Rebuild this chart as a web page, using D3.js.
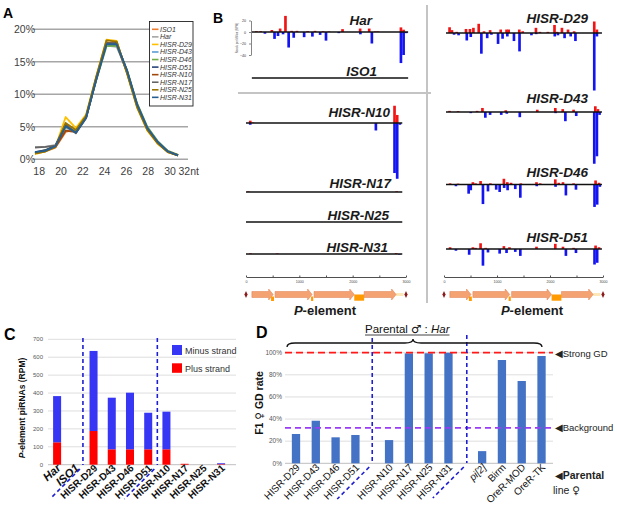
<!DOCTYPE html>
<html><head><meta charset="utf-8">
<script src="https://cdn.jsdelivr.net/npm/d3@7"></script>
<style>body{margin:0;background:#fff}</style>
</head><body>
<svg id="fig" width="617" height="513"></svg>
<script>
// ---- panel A data: small RNA length distribution (% of reads)
const lengths = [18,19,20,21,22,23,24,25,26,27,28,29,30,31,32];
const pctTicks = [0,5,10,15,20];
const sizeTicks = [18,20,22,24,26,28,30,32];
const libNames = ["ISO1","Har","HISR-D29","HISR-D43","HISR-D46","HISR-D51","HISR-N10","HISR-N17","HISR-N25","HISR-N31"];
const libColors = ["#ed7d31","#a5a5a5","#ffc000","#5b9bd5","#70ad47","#264478","#9e480e","#636363","#997300","#255e91"];
const iso1Len = [0.9,1.2,1.8,4.2,4.6,6.6,12.3,17.8,17.6,13.7,8.4,4.6,2.5,1.1,0.6];
const harLen  = [1.9,1.9,2.2,4.8,4.3,6.4,12.2,17.5,17.3,13.6,8.5,4.9,2.8,1.3,0.7];
const d29Len  = [0.8,1.2,1.9,6.5,4.8,6.9,12.8,18.4,18.2,13.2,7.9,4.4,2.4,1.1,0.6];
const d43Len  = [1.0,1.3,2.0,5.2,4.2,6.5,12.5,17.9,17.6,13.4,8.2,4.7,2.6,1.2,0.6];
const d46Len  = [1.0,1.4,2.1,5.0,4.3,6.6,12.2,17.4,17.5,13.8,8.6,5.0,2.8,1.3,0.7];
const d51Len  = [1.1,1.4,2.1,5.2,4.1,6.4,12.4,17.8,17.9,13.6,8.3,4.7,2.6,1.2,0.6];
const n10Len  = [0.9,1.3,1.9,4.4,4.2,6.5,12.6,18.0,17.7,13.4,8.2,4.6,2.5,1.2,0.6];
const n17Len  = [1.8,1.9,2.1,5.4,4.0,6.3,12.3,17.9,17.8,13.6,8.4,4.8,2.6,1.2,0.6];
const n25Len  = [0.9,1.2,1.9,5.6,4.5,6.7,12.7,18.3,18.1,13.3,8.0,4.5,2.5,1.1,0.6];
const n31Len  = [1.1,1.3,2.0,5.1,4.1,6.4,12.3,17.7,17.7,13.7,8.4,4.8,2.7,1.2,0.6];

// ---- panel B data: piRNA coverage along P-element, [bin start bp, RPM]
const harPlus  = [[170,1.5],[250,1.5],[460,3.5],[615,6],[715,28],[830,2],[930,2],[1130,1.5],[1270,2],[1420,1.5],[1530,1],[1785,5],[2115,6],[2285,6],[2400,1],[2450,1],[2880,8],[2930,4]];
const harMinus = [[330,3],[510,12],[575,7],[670,4],[775,27],[870,10],[1065,9],[1220,8],[1365,5],[1475,15],[1715,2],[2120,4],[2335,20],[2880,54],[2930,40],[2980,2]];
const iso1Plus = [], iso1Minus = [];
const n10Plus  = [[55,4],[105,1],[2760,30],[2810,14]];
const n10Minus = [[55,3],[2410,13],[2760,87],[2810,97],[2860,3]];
const n17Plus  = [[20,1],[2800,1.2]], n17Minus = [];
const n25Plus  = [], n25Minus = [];
const n31Plus  = [[60,1.2],[560,1],[2790,1.5]], n31Minus = [[2850,1]];
const d29Plus  = [[80,10],[125,5],[215,2],[390,7],[465,7],[530,9],[630,16],[730,3],[845,5],[1045,6],[1155,6],[1195,6],[1395,6],[1460,3],[1710,9],[1785,2],[1935,2],[2060,14],[2110,2],[2200,9],[2315,6],[2430,3],[2810,20],[2860,6]];
const d29Minus = [[165,3],[250,4],[405,13],[480,7],[680,36],[790,9],[870,3],[995,19],[1080,10],[1170,6],[1295,14],[1400,32],[1625,4],[1715,2],[2065,6],[2125,4],[2250,9],[2365,6],[2455,14],[2810,100],[2860,6]];
const d43Plus  = [[80,2],[240,1.5],[600,2],[700,7],[1140,3],[1735,4],[2075,7],[2215,5],[2420,4],[2830,10],[2880,5]];
const d43Minus = [[480,2],[755,10],[845,5],[1055,5],[1160,3],[1405,9],[2080,2],[2265,16],[2470,7],[2810,90],[2860,77],[2910,5]];
const d46Plus  = [[90,2],[240,1.5],[520,4],[570,2],[665,6],[850,2],[1105,10],[1170,4],[1240,3],[1425,2],[1720,4],[1790,2],[2075,9],[2140,3],[2220,4],[2420,2],[2835,7],[2900,3]];
const d46Minus = [[200,3],[440,16],[480,10],[710,34],[805,12],[960,9],[1025,13],[1110,6],[1175,10],[1320,8],[1415,23],[1725,3],[2080,4],[2275,19],[2465,9],[2815,39],[2865,35],[2915,4]];
const d51Plus  = [[90,3],[520,3],[570,2],[665,10],[760,2],[1105,5],[1210,3],[1720,4],[2075,9],[2220,4],[2420,2],[2835,6],[2900,3]];
const d51Minus = [[200,3],[450,10],[710,29],[805,6],[1025,8],[1155,7],[1320,5],[1415,12],[2275,12],[2465,7],[2815,27],[2865,24]];
// P-element features (bp)
const exons = [[110,510],[545,1240],[1275,2030],[2215,2815]];
const smallBoxes = [[470,525],[1220,1260]];
const bigBox = [2030,2215];
const tailSeg = [2815,2950];

// ---- panel C data
const cCats = ["Har","ISO1","HISR-D29","HISR-D43","HISR-D46","HISR-D51","HISR-N10","HISR-N17","HISR-N25","HISR-N31"];
const cPlus  = [125,0,188,86,86,86,86,5,0,3];
const cMinus = [258,0,447,288,316,204,210,0,0,5];
const cTicks = [0,100,200,300,400,500,600,700];

// ---- panel D data
const dCats  = ["HISR-D29","HISR-D43","HISR-D46","HISR-D51","HISR-N10","HISR-N17","HISR-N25","HISR-N31","pi[2]","Birm","OreR-MOD","OreR-TK"];
const dGroup = [0,0,0,0,1,1,1,1,2,2,2,2];
const dRate  = [26.5,38.5,23.5,25.6,21,99.4,99.5,100,11,93.4,74.4,97];
const dTicks = [0,20,40,60,80,100];
const strongGD = 100, background = 32;

const SYM = "'DejaVu Sans'";
const svg = d3.select("#fig").attr("font-family","'Liberation Sans', Arial, sans-serif");
svg.append("rect").attr("width",617).attr("height",513).attr("fill","#fff");

function panelLetter(t,x,y,s){
  svg.append("text").attr("x",x).attr("y",y).attr("font-size",s).attr("font-weight","bold").text(t);
}

// ================= A
const gA = svg.append("g");
const xA = d3.scaleLinear().domain([18,32]).range([35,178]);
const yA = d3.scaleLinear().domain([0,20]).range([159.3,29.3]);
const lxA = d3.scaleLinear().domain([18,30]).range([39.2,170]);
gA.selectAll(".g").data(pctTicks).join("line")
  .attr("x1",33).attr("x2",188).attr("y1",d=>yA(d)).attr("y2",d=>yA(d))
  .attr("stroke","#a6a6a6").attr("stroke-width",1.4);
gA.selectAll(".yl").data(pctTicks).join("text")
  .attr("x",35).attr("y",d=>yA(d)+3.8).attr("text-anchor","end")
  .attr("font-size",10.5).attr("fill","#404040").text(d=>d+"%");
gA.selectAll(".xl").data(sizeTicks).join("text")
  .attr("x",d=>d===32?178.5:lxA(d)).attr("y",175).attr("text-anchor",d=>d===32?"start":"middle")
  .attr("font-size",10.5).attr("fill","#404040").text(d=>d===32?"32nt":d);
const lenSeries = [iso1Len,harLen,d29Len,d43Len,d46Len,d51Len,n10Len,n17Len,n25Len,n31Len];
const lineA = d3.line().x((d,i)=>xA(lengths[i])).y(d=>yA(d));
lenSeries.forEach((s,i)=>{
  gA.append("path").attr("d",lineA(s)).attr("fill","none")
    .attr("stroke",libColors[i]).attr("stroke-width",1.8).attr("stroke-linejoin","round");
});
gA.append("rect").attr("x",149.5).attr("y",21.5).attr("width",43.5).attr("height",84.5)
  .attr("fill","#fff").attr("stroke","#222").attr("stroke-width",0.9);
libNames.forEach((n,i)=>{
  const y = 29.3 + i*7.56;
  gA.append("line").attr("x1",152).attr("x2",158.5).attr("y1",y).attr("y2",y)
    .attr("stroke",libColors[i]).attr("stroke-width",1.6);
  gA.append("text").attr("x",160).attr("y",y+2.4).attr("font-size",7)
    .attr("font-style","italic").attr("fill","#333").text(n);
});
panelLetter("A",3,18,14);

// ================= B
panelLetter("B",213,23,14);
const xL = d3.scaleLinear().domain([0,3000]).range([246,406]);
const xR = d3.scaleLinear().domain([0,3000]).range([444,603]);
const rpm = d3.scaleLinear().domain([0,20]).range([0,11.5]);
const tracks = [
  {name:"Har",     plus:harPlus,  minus:harMinus,  xs:xL, base:32,  ly:25,  lx:372, span:[110,3040]},
  {name:"ISO1",    plus:iso1Plus, minus:iso1Minus, xs:xL, base:78,  ly:76,  lx:377, span:[110,3040]},
  {name:"HISR-N10",plus:n10Plus,  minus:n10Minus,  xs:xL, base:123, ly:117, lx:390, span:[0,2930]},
  {name:"HISR-N17",plus:n17Plus,  minus:n17Minus,  xs:xL, base:192, ly:188, lx:391, span:[0,2930]},
  {name:"HISR-N25",plus:n25Plus,  minus:n25Minus,  xs:xL, base:222, ly:220, lx:389, span:[0,2930]},
  {name:"HISR-N31",plus:n31Plus,  minus:n31Minus,  xs:xL, base:254, ly:252, lx:388, span:[0,2930]},
  {name:"HISR-D29",plus:d29Plus,  minus:d29Minus,  xs:xR, base:33,  ly:23,  lx:588, span:[38,2980]},
  {name:"HISR-D43",plus:d43Plus,  minus:d43Minus,  xs:xR, base:112, ly:103, lx:588, span:[38,2980]},
  {name:"HISR-D46",plus:d46Plus,  minus:d46Minus,  xs:xR, base:184.5,ly:177, lx:588, span:[38,2980]},
  {name:"HISR-D51",plus:d51Plus,  minus:d51Minus,  xs:xR, base:249, ly:242, lx:588, span:[38,2980]}
];
const gB = svg.append("g");
tracks.forEach(t=>{
  const g = gB.append("g");
  const w = d=>t.xs(d[0]+50)-t.xs(d[0]);
  g.selectAll(".p").data(t.plus).join("rect")
    .attr("x",d=>t.xs(d[0])).attr("width",w)
    .attr("y",d=>t.base-rpm(d[1])).attr("height",d=>rpm(d[1])).attr("fill","#f01414");
  g.selectAll(".m").data(t.minus).join("rect")
    .attr("x",d=>t.xs(d[0])).attr("width",w)
    .attr("y",t.base).attr("height",d=>rpm(d[1])).attr("fill","#1414f0");
  g.append("line").attr("x1",t.xs(t.span[0])).attr("x2",t.xs(t.span[1]))
    .attr("y1",t.base).attr("y2",t.base).attr("stroke","#111").attr("stroke-width",1.4);
  g.append("text").attr("x",t.lx).attr("y",t.ly).attr("text-anchor","end")
    .attr("font-size",13.5).attr("font-weight","bold").attr("font-style","italic")
    .attr("fill","#1a1a1a").text(t.name);
});
// small RPM axis on Har track
const yHar = d3.scaleLinear().domain([-40,20]).range([32+rpm(40),32-rpm(20)]);
const axHar = gB.append("g").attr("transform","translate(251,0)")
  .call(d3.axisLeft(yHar).tickValues([20,0,-20,-40]).tickSize(2).tickSizeOuter(0));
axHar.selectAll("text").attr("font-size",3.6).attr("fill","#333");
axHar.selectAll("path,line").attr("stroke","#333").attr("stroke-width",0.6);
axHar.attr("font-family",null);
gB.append("text").attr("transform","translate(238,38) rotate(-90)").attr("text-anchor","middle")
  .attr("font-size",2.8).attr("fill","#555").text("Reads per Million (RPM)");

// separators
gB.append("line").attr("x1",427).attr("x2",427).attr("y1",5).attr("y2",303)
  .attr("stroke","#c4c4c4").attr("stroke-width",2);
gB.append("line").attr("x1",238).attr("x2",431).attr("y1",93).attr("y2",93)
  .attr("stroke","#c4c4c4").attr("stroke-width",2);

function geneDiagram(xs, labelX){
  const g = gB.append("g");
  const ax = g.append("g").attr("transform","translate(0,277)")
    .call(d3.axisTop(xs).tickValues([0,500,1000,1500,2000,2500,3000]).tickSize(1.5).tickSizeOuter(0)
      .tickFormat(d=>d%1000===0?d:""));
  ax.attr("font-family",null);
  ax.selectAll("path,line").attr("stroke","#222").attr("stroke-width",0.8);
  ax.selectAll("text").attr("font-size",3.6).attr("fill","#444").attr("y",6);
  const yc = 294.5;
  g.append("line").attr("x1",xs(tailSeg[0])).attr("x2",xs(tailSeg[1])).attr("y1",yc).attr("y2",yc)
    .attr("stroke","#fbe7b8").attr("stroke-width",3);
  exons.forEach(e=>{
    const a = xs(e[0]), b = xs(e[1]), h = b-4.5;
    g.append("path").attr("d",`M${a},${yc-3}L${h},${yc-3}L${h},${yc-5.5}L${b},${yc}L${h},${yc+5.5}L${h},${yc+3}L${a},${yc+3}Z`)
      .attr("fill","#f5a273").attr("stroke","#e07d4c").attr("stroke-width",0.5);
  });
  smallBoxes.forEach(e=>{
    g.append("rect").attr("x",xs(e[0])).attr("width",xs(e[1])-xs(e[0]))
      .attr("y",yc+2).attr("height",4.5).attr("fill","#ff9a00");
  });
  g.append("rect").attr("x",xs(bigBox[0])).attr("width",xs(bigBox[1])-xs(bigBox[0]))
    .attr("y",yc).attr("height",6.2).attr("fill","#ff9a00");
  [0,3000].forEach(p=>{
    const x = xs(p);
    g.append("path").attr("d",`M${x},${yc-3.5}L${x+1.6},${yc}L${x},${yc+3.5}L${x-1.6},${yc}Z`).attr("fill","#8a1c1c");
  });
  const t = g.append("text").attr("x",labelX).attr("y",315).attr("text-anchor","middle")
    .attr("font-size",13).attr("font-weight","bold").attr("fill","#1a1a1a");
  t.append("tspan").attr("font-style","italic").text("P");
  t.append("tspan").text("-element");
}
geneDiagram(xL,325);
geneDiagram(xR,532);

// ================= C
panelLetter("C",4,340,16);
const gC = svg.append("g");
const yC = d3.scaleLinear().domain([0,700]).range([464.7,339.3]);
const xC = d3.scaleBand().domain(cCats).range([48,230.2]).paddingInner(0.56).paddingOuter(0.28);
gC.selectAll(".g").data(cTicks).join("line")
  .attr("x1",48).attr("x2",236).attr("y1",d=>yC(d)).attr("y2",d=>yC(d))
  .attr("stroke",d=>d===0?"#bfbfbf":"#dedede").attr("stroke-width",1);
gC.selectAll(".yl").data(cTicks).join("text")
  .attr("x",43).attr("y",d=>yC(d)+2.1).attr("text-anchor","end")
  .attr("font-size",6).attr("fill","#595959").text(d=>d);
gC.selectAll(".bp").data(cCats).join("rect")
  .attr("x",d=>xC(d)).attr("width",xC.bandwidth())
  .attr("y",(d,i)=>yC(cPlus[i])).attr("height",(d,i)=>yC(0)-yC(cPlus[i])).attr("fill","#ff0000");
gC.selectAll(".bm").data(cCats).join("rect")
  .attr("x",d=>xC(d)).attr("width",xC.bandwidth())
  .attr("y",(d,i)=>yC(cPlus[i]+cMinus[i])).attr("height",(d,i)=>yC(cPlus[i])-yC(cPlus[i]+cMinus[i])).attr("fill","#3636f4");
gC.selectAll(".xl").data(cCats).join("text")
  .attr("transform",d=>`translate(${xC(d)+xC.bandwidth()/2+4.5},469) rotate(-42)`)
  .attr("text-anchor","end").attr("font-weight","bold")
  .attr("font-size",(d,i)=>i<2?11.5:10).attr("font-style",(d,i)=>i<2?"italic":null)
  .attr("fill","#111").text(d=>d);
gC.append("rect").attr("x",172).attr("y",345).attr("width",10).attr("height",10).attr("fill","#3636f4");
gC.append("rect").attr("x",172).attr("y",363.3).attr("width",10).attr("height",9.5).attr("fill","#ff0000");
gC.append("text").attr("x",185).attr("y",354).attr("font-size",9).attr("fill","#333").text("Minus strand");
gC.append("text").attr("x",185).attr("y",372).attr("font-size",9).attr("fill","#333").text("Plus strand");
const tc = gC.append("text").attr("transform","translate(25,408) rotate(-90)").attr("text-anchor","middle")
  .attr("font-size",8.5).attr("font-weight","bold").attr("fill","#111");
tc.append("tspan").attr("font-style","italic").text("P");
tc.append("tspan").text("-element piRNAs (RPM)");
function groupSplit(g, x, yTop, yBot, dy){
  g.append("line").attr("x1",x).attr("x2",x).attr("y1",yTop).attr("y2",yBot)
    .attr("stroke","#1f1fd0").attr("stroke-width",1.6).attr("stroke-dasharray","4,3");
  g.append("line").attr("x1",x-3).attr("y1",yBot+4).attr("x2",x-3-dy).attr("y2",yBot+4+dy)
    .attr("stroke","#1f1fd0").attr("stroke-width",1.6).attr("stroke-dasharray","4,3");
}
const cMid = (a,b)=>(xC(a)+xC(b))/2+xC.bandwidth()/2;
groupSplit(gC, cMid("ISO1","HISR-D29")-1.5, 338, 465, 29);
groupSplit(gC, cMid("HISR-D51","HISR-N10"), 338, 465, 30);

// ================= D
panelLetter("D",256,338,16);
const gD = svg.append("g");
const yD = d3.scaleLinear().domain([0,100]).range([463.3,352.7]);
const slot = d3.scaleLinear().domain([0,1]).range([296,315.8]);
const xD = i=>slot(i+0.7*dGroup[i]);
gD.selectAll(".g").data(dTicks).join("line")
  .attr("x1",285).attr("x2",553).attr("y1",d=>yD(d)).attr("y2",d=>yD(d))
  .attr("stroke",d=>d===0?"#bfbfbf":"#dedede").attr("stroke-width",1);
gD.selectAll(".yl").data(dTicks).join("text")
  .attr("x",282).attr("y",d=>yD(d)+2.2).attr("text-anchor","end")
  .attr("font-size",6.5).attr("fill","#595959").text(d=>d+"%");
gD.selectAll(".b").data(dRate).join("rect")
  .attr("x",(d,i)=>xD(i)-4.15).attr("width",8.3)
  .attr("y",d=>yD(d)).attr("height",d=>yD(0)-yD(d)).attr("fill","#4472c4");
gD.selectAll(".xl").data(dCats).join("text")
  .attr("transform",(d,i)=>`translate(${xD(i)+4.5},468) rotate(-45)`)
  .attr("text-anchor","end").attr("font-size",10).attr("fill","#111")
  .attr("font-style",d=>d==="pi[2]"?"italic":null).text(d=>d);
gD.append("line").attr("x1",285).attr("x2",553).attr("y1",yD(strongGD)).attr("y2",yD(strongGD))
  .attr("stroke","#ff1a1a").attr("stroke-width",1.8).attr("stroke-dasharray","7,4");
gD.append("line").attr("x1",285).attr("x2",553).attr("y1",yD(background)).attr("y2",yD(background))
  .attr("stroke","#9b3cf5").attr("stroke-width",1.6).attr("stroke-dasharray","6,4");
groupSplit(gD, (xD(3)+xD(4))/2, 338, 463, 32);
groupSplit(gD, (xD(7)+xD(8))/2+1.5, 335, 463, 31);
function markText(x,y,label,bold){
  const t = gD.append("text").attr("x",x).attr("y",y).attr("font-size",bold?10.5:9.5).attr("fill","#222");
  t.append("tspan").attr("font-family",SYM).attr("font-size",10).text("◀");
  t.append("tspan").attr("font-weight",bold?"bold":null).text(label);
}
markText(555,356.5,"Strong GD",false);
markText(555,yD(background)+3.5,"Background",false);
markText(555,479,"Parental",true);
const tl = gD.append("text").attr("x",553).attr("y",494).attr("font-size",10.5).attr("fill","#222");
tl.append("tspan").text("line ");
tl.append("tspan").attr("font-family",SYM).text("♀");
const td = gD.append("text").attr("transform","translate(263,403) rotate(-90)").attr("text-anchor","middle")
  .attr("font-size",10.5).attr("font-weight","bold").attr("fill","#111");
td.append("tspan").text("F1 ");
td.append("tspan").attr("font-family",SYM).attr("font-weight","normal").text("♀");
td.append("tspan").text("  GD rate");
// brace + header
gD.append("path").attr("d","M287,347 Q287,343 295,343 L405,343 Q413,343 413,339 Q413,343 421,343 L534,343 Q542,343 542,347")
  .attr("fill","none").attr("stroke","#111").attr("stroke-width",1.3);
const th = gD.append("text").attr("x",365).attr("y",333).attr("font-size",11.5).attr("fill","#111");
th.append("tspan").text("Parental ");
th.append("tspan").attr("font-family",SYM).text("♂");
th.append("tspan").text(" : ");
th.append("tspan").attr("font-style","italic").text("Har");
const tw = th.node().getComputedTextLength();
gD.append("line").attr("x1",365).attr("x2",365+tw).attr("y1",335).attr("y2",335)
  .attr("stroke","#111").attr("stroke-width",0.8);
</script>
</body></html>
